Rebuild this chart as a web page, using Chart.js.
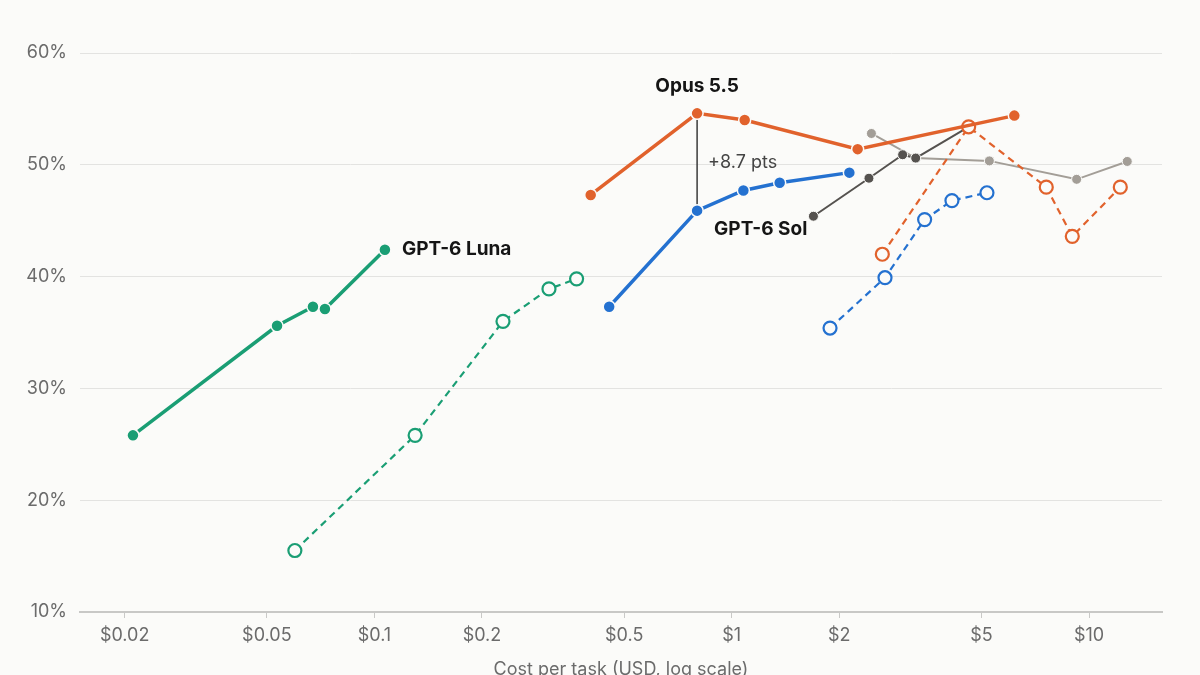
<!DOCTYPE html>
<html>
<head>
<meta charset="utf-8">
<script src="https://cdn.jsdelivr.net/npm/chart.js@4.4.1/dist/chart.umd.min.js"></script>
<style>
  html, body { margin: 0; padding: 0; background: #fbfbf9; }
  .chart-wrap { width: 1200px; height: 675px; position: relative; }
</style>
</head>
<body>
<div class="chart-wrap"><canvas id="cost-chart"></canvas></div>
<script>
// cost per task (USD) and score (%)
const lunaCost = [0.0211, 0.0534, 0.0673, 0.0727, 0.107];
const lunaScore = [25.8, 35.6, 37.3, 37.1, 42.4];
const lunaBaseCost = [0.0599, 0.130, 0.229, 0.308, 0.368];
const lunaBaseScore = [15.5, 25.8, 36.0, 38.9, 39.8];

const solCost = [0.454, 0.80, 1.078, 1.362, 2.134];
const solScore = [37.3, 45.9, 47.7, 48.4, 49.3];
const solBaseCost = [1.884, 2.685, 3.466, 4.133, 5.179];
const solBaseScore = [35.4, 39.9, 45.1, 46.8, 47.5];

const opusCost = [0.403, 0.80, 1.087, 2.251, 6.178];
const opusScore = [47.3, 54.6, 54.0, 51.4, 54.4];
const opusBaseCost = [2.639, 4.603, 7.59, 8.975, 12.23];
const opusBaseScore = [42.0, 53.4, 48.0, 43.6, 48.0];

const darkCost = [1.693, 2.421, 3.008, 3.272, 4.603];
const darkScore = [45.4, 48.8, 50.9, 50.6, 53.4];
const greyCost = [2.46, 3.272, 5.26, 9.23, 12.79];
const greyScore = [52.8, 50.6, 50.35, 48.7, 50.3];

const xTicks = [0.02, 0.05, 0.1, 0.2, 0.5, 1, 2, 5, 10];
const yTicks = [10, 20, 30, 40, 50, 60];

const gapIndex = 1; // Opus vs Sol at the same cost

const BG = '#fbfbf9';
const GREEN = '#1a9e74';
const BLUE = '#2471d0';
const ORANGE = '#e1622c';
const DARK = '#55524f';
const GREY = '#a39e97';

function pts(xs, ys){
  return xs.map((v, i) => ({ x: v, y: ys[i] }));
}

//실선 시리즈
function solid(label, xs, ys, color){
  return {
    label, data: pts(xs, ys), showLine: true,
    borderColor: color, borderWidth: 3.5,
    pointRadius: 6, pointBackgroundColor: color,
    pointBorderColor: BG, pointBorderWidth: 1.5,
  };
}
//점선 시리즈 (빈 원)
function dashed(label, xs, ys, color){
  return {
    label, data: pts(xs, ys), showLine: true,
    borderColor: color, borderWidth: 2.2, borderDash: [7, 5],
    pointRadius: 6.5, pointBackgroundColor: BG,
    pointBorderColor: color, pointBorderWidth: 2.2,
  };
}
function thin(label, xs, ys, color){
  return {
    label, data: pts(xs, ys), showLine: true,
    borderColor: color, borderWidth: 2,
    pointRadius: 5, pointBackgroundColor: color,
    pointBorderColor: BG, pointBorderWidth: 1,
  };
}

// first dataset is drawn on top
const datasets = [
  solid('Opus 5.5', opusCost, opusScore, ORANGE),
  solid('GPT-6 Sol', solCost, solScore, BLUE),
  solid('GPT-6 Luna', lunaCost, lunaScore, GREEN),
  dashed('Opus base', opusBaseCost, opusBaseScore, ORANGE),
  dashed('Sol base', solBaseCost, solBaseScore, BLUE),
  dashed('Luna base', lunaBaseCost, lunaBaseScore, GREEN),
  thin('dark', darkCost, darkScore, DARK),
  thin('grey', greyCost, greyScore, GREY),
];

const labelPlugin = {
  id: 'seriesLabels',
  beforeDatasetsDraw(chart){
    const { ctx, scales: { x, y } } = chart;
    const bx = x.getPixelForValue(opusCost[gapIndex]);
    ctx.save();
    ctx.strokeStyle = '#3a3a3a';
    ctx.lineWidth = 1.5;
    ctx.beginPath();
    ctx.moveTo(bx, y.getPixelForValue(opusScore[gapIndex]));
    ctx.lineTo(bx, y.getPixelForValue(solScore[gapIndex]));
    ctx.stroke();
    ctx.restore();
  },
  afterDatasetsDraw(chart){
    const { ctx, scales: { x, y } } = chart;
    ctx.save();
    ctx.textBaseline = 'middle';

    const bx = x.getPixelForValue(opusCost[gapIndex]);
    const yTop = y.getPixelForValue(opusScore[gapIndex]);
    const yBot = y.getPixelForValue(solScore[gapIndex]);
    const gap = (opusScore[gapIndex] - solScore[gapIndex]).toFixed(1);
    ctx.font = '18px Inter';
    ctx.fillStyle = '#444';
    ctx.textAlign = 'left';
    ctx.fillText('+' + gap + ' pts', bx + 11, (yTop + yBot) / 2 + 1);

    ctx.font = 'bold 19px Inter';
    ctx.fillStyle = '#151515';
    ctx.textAlign = 'center';
    ctx.fillText('Opus 5.5', bx, yTop - 27);

    ctx.textAlign = 'left';
    ctx.fillText('GPT-6 Sol', x.getPixelForValue(solCost[gapIndex]) + 17, yBot + 19);

    const li = lunaCost.length - 1;
    ctx.fillText('GPT-6 Luna',
      x.getPixelForValue(lunaCost[li]) + 17,
      y.getPixelForValue(lunaScore[li]));
    ctx.restore();
  }
};

const $canvas = document.getElementById('cost-chart').getContext('2d');

new Chart($canvas, {
  type: 'scatter',
  data: { datasets },
  options: {
    responsive: true,
    maintainAspectRatio: false,
    animation: false,
    layout: { padding: { top: 53, right: 38, left: 0, bottom: 0 } },
    plugins: {
      legend: { display: false },
      tooltip: { enabled: false },
    },
    scales: {
      x: {
        type: 'logarithmic',
        min: 0.015,
        max: 16,
        afterBuildTicks: (scale) => { scale.ticks = xTicks.map(v => ({ value: v })); },
        afterFit: (scale) => { scale.height = 63; },
        ticks: {
          autoSkip: false,
          maxRotation: 0,
          padding: 7,
          color: '#6b6b6b',
          font: { family: 'Inter', size: 18 },
          callback: (v) => '$' + v,
        },
        grid: {
          drawOnChartArea: false,
          drawTicks: true,
          tickLength: 6,
          color: '#c9c9c7',
        },
        border: { display: true, color: '#c8c8c6', width: 2 },
        title: {
          display: true,
          text: 'Cost per task (USD, log scale)',
          color: '#6b6b6b',
          font: { family: 'Inter', size: 18, lineHeight: 1 },
          padding: { top: 0, bottom: -4 },
        },
      },
      y: {
        min: 10,
        max: 60,
        afterBuildTicks: (scale) => { scale.ticks = yTicks.map(v => ({ value: v })); },
        afterFit: (scale) => { scale.width = 80; },
        ticks: {
          padding: 13,
          color: '#6b6b6b',
          font: { family: 'Inter', size: 18 },
          callback: (v) => v + '%',
        },
        grid: { color: '#e3e3e1', drawTicks: false, lineWidth: 1 },
        border: { display: false },
      },
    },
  },
  plugins: [labelPlugin],
});
</script>
</body>
</html>
